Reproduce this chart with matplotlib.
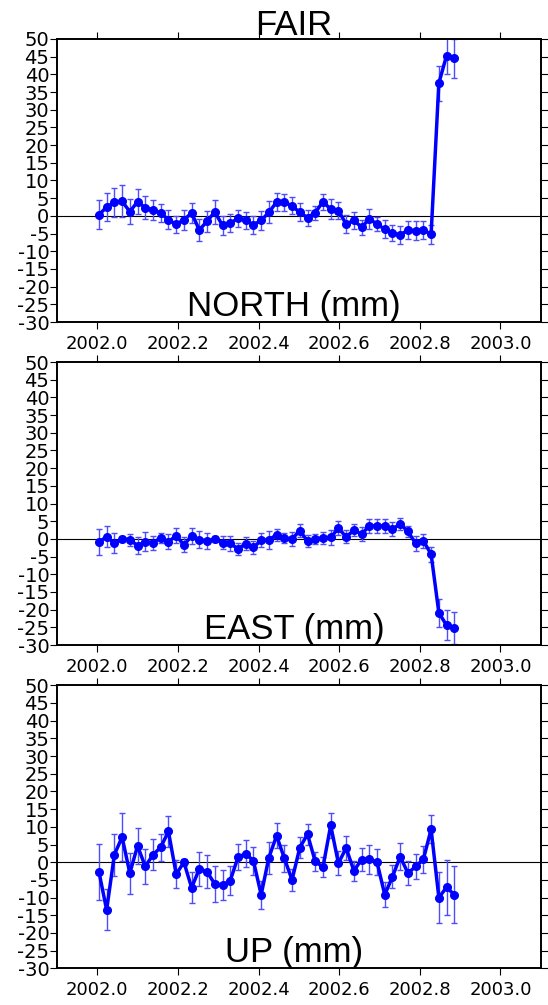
import numpy as np
import matplotlib
matplotlib.use("Agg")
import matplotlib.pyplot as plt

plt.rcParams['axes.unicode_minus'] = False

# weekly solution epochs (decimal year)
epochs = [2002.0040, 2002.0232, 2002.0423, 2002.0615, 2002.0807, 2002.0998,
          2002.1190, 2002.1382, 2002.1573, 2002.1765, 2002.1957, 2002.2148,
          2002.2340, 2002.2531, 2002.2723, 2002.2915, 2002.3106, 2002.3298,
          2002.3490, 2002.3681, 2002.3873, 2002.4065, 2002.4256, 2002.4448,
          2002.4640, 2002.4831, 2002.5023, 2002.5215, 2002.5406, 2002.5598,
          2002.5790, 2002.5981, 2002.6173, 2002.6365, 2002.6556, 2002.6748,
          2002.6939, 2002.7131, 2002.7323, 2002.7514, 2002.7706, 2002.7898,
          2002.8089, 2002.8281, 2002.8473, 2002.8664, 2002.8856]

north = [0.3, 2.5, 3.8, 4.1, 1.2, 4.0, 2.3, 1.7, 0.8, -1.1,
         -2.4, -1.1, 0.8, -4.0, -1.5, 1.1, -2.7, -2.1, -0.7, -1.3,
         -2.5, -1.3, 1.0, 3.9, 3.9, 2.8, 1.0, -0.5, 0.9, 4.0,
         1.9, 1.5, -2.3, -1.3, -3.2, -0.9, -2.3, -3.8, -4.9, -5.4,
         -4.0, -4.2, -4.0, -5.2, 37.5, 45.3, 44.6]
north_err = [4.1, 4.0, 4.0, 4.5, 3.6, 3.5, 3.3, 2.8, 2.5, 2.7,
             2.5, 2.8, 2.8, 3.0, 3.0, 3.4, 2.6, 2.5, 2.4, 2.4,
             2.5, 2.6, 3.1, 2.5, 2.4, 2.4, 2.5, 2.3, 2.0, 2.3,
             2.8, 2.5, 2.5, 2.3, 2.1, 2.9, 2.0, 2.5, 2.2, 2.5,
             2.5, 2.7, 2.6, 2.7, 4.9, 5.2, 5.5]

east = [-0.9, 0.6, -1.2, 0.0, -0.2, -1.9, -0.8, -1.1, 0.3, -0.8,
        0.9, -1.7, 0.8, -0.2, -0.6, 0.0, -1.1, -1.3, -2.8, -1.4,
        -2.4, -0.4, -0.3, 1.2, 0.2, 0.0, 2.3, -0.6, 0.0, 0.3,
        0.4, 3.0, 0.6, 2.4, 1.4, 3.6, 3.6, 3.6, 2.8, 4.2,
        2.1, -1.3, -0.6, -4.3, -20.9, -24.4, -25.2]
east_err = [3.7, 2.9, 2.8, 0.8, 1.7, 2.5, 2.7, 2.0, 1.4, 2.2,
            2.2, 2.1, 2.2, 2.5, 2.2, 0.8, 1.8, 2.2, 1.7, 1.8,
            1.8, 2.0, 2.6, 1.7, 1.4, 1.9, 1.8, 1.6, 1.5, 1.7,
            2.2, 2.0, 1.8, 1.7, 2.0, 2.0, 2.0, 2.0, 1.9, 1.7,
            1.5, 2.1, 1.9, 2.1, 4.0, 4.2, 4.5]

up = [-2.7, -13.5, 2.1, 7.1, -3.1, 4.6, -1.2, 2.1, 4.2, 8.7,
      -3.4, 0.0, -7.2, -1.9, -2.7, -6.2, -6.5, -5.2, 1.4, 2.4,
      0.4, -9.2, 1.3, 7.5, 1.1, -5.0, 4.1, 7.9, 0.2, -1.4,
      10.4, -0.3, 4.0, -2.4, 0.7, 0.8, 0.0, -9.2, -4.1, 1.6,
      -3.1, -1.2, 0.8, 9.3, -10.0, -7.1, -9.2]
up_err = [7.9, 5.8, 6.0, 6.8, 5.8, 5.2, 5.0, 4.4, 3.8, 4.4,
          4.0, 1.0, 4.4, 4.9, 4.6, 5.1, 4.2, 4.1, 3.7, 3.8,
          3.9, 4.0, 4.5, 3.5, 3.8, 3.2, 2.9, 2.9, 2.6, 2.8,
          3.5, 3.4, 3.3, 2.8, 3.2, 4.1, 3.7, 3.5, 3.3, 3.8,
          3.4, 3.6, 3.8, 4.0, 7.1, 7.7, 8.1]

xticks = [2002.0, 2002.2, 2002.4, 2002.6, 2002.8, 2003.0]
yticks = list(range(-30, 51, 5))
station = "FAIR"
components = ["NORTH (mm)", "EAST (mm)", "UP (mm)"]

fig = plt.figure(figsize=(5.48, 10.05), dpi=100)

# axes boxes in figure fractions: left, bottom, width, height
left, width, height = 0.104, 0.8827, 0.2816
bottoms = [0.6796, 0.3582, 0.0365]

series = [(north, north_err), (east, east_err), (up, up_err)]

for i, (vals, errs) in enumerate(series):
    ax = fig.add_axes([left, bottoms[i], width, height])
    ax.axhline(0, color='black', lw=0.8, zorder=1)
    ax.errorbar(epochs, vals, yerr=errs, fmt='none', ecolor=(0.3, 0.3, 1.0),
                elinewidth=1.0, capsize=2.5, capthick=1.0, zorder=2)
    ax.plot(epochs, vals, '-o', color='blue', lw=2.5, ms=5.5, zorder=3)

    ax.set_xlim(2001.9, 2003.1)
    ax.set_ylim(-30, 50)
    ax.set_xticks(xticks)
    ax.set_xticklabels(["%.1f" % t for t in xticks])
    ax.set_yticks(yticks)
    ax.set_yticklabels([str(t) for t in yticks])

    ax.tick_params(direction='out', length=5, width=0.8, top=True, right=True,
                   colors='black')
    ax.tick_params(axis='x', pad=4, labelsize=13)
    ax.tick_params(axis='y', pad=0.5, labelsize=14)
    for lab in ax.get_xticklabels() + ax.get_yticklabels():
        lab.set_family('DejaVu Sans')
    for sp in ax.spines.values():
        sp.set_linewidth(1.4)

    ax.text(0.49, 0.021, components[i], transform=ax.transAxes,
            ha='center', va='baseline', fontsize=25, family='Liberation Sans')
    if i == 0:
        ax.text(0.49, 1.013, station, transform=ax.transAxes,
                ha='center', va='baseline', fontsize=25, family='Liberation Sans')

fig.savefig("out.png", dpi=100)
